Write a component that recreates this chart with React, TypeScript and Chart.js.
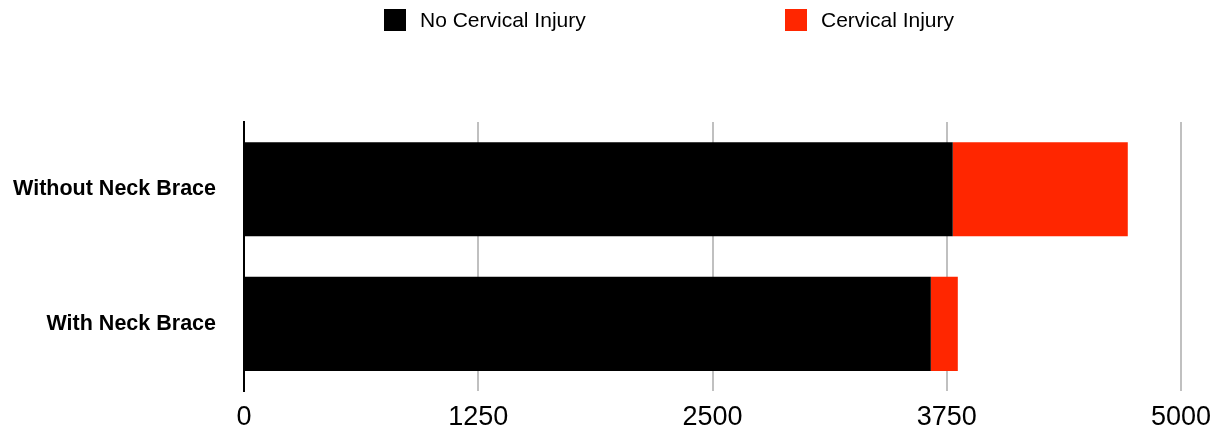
import React, { useEffect, useRef } from "react";
import { Chart, registerables } from "chart.js";

Chart.register(...registerables);

const categories = ["Without Neck Brace", "With Neck Brace"];
const noInjury = [3782, 3665];
const injury = [934, 144];
const seriesNames = ["No Cervical Injury", "Cervical Injury"];
const seriesColors = ["#000000", "#FF2600"];
const xMin = 0;
const xMax = 5000;
const xStep = 1250;

const FONT = "'Liberation Sans', Helvetica, Arial, sans-serif";

export default function App() {
  const ref = useRef<HTMLCanvasElement | null>(null);

  useEffect(() => {
    document.body.style.margin = "0";
    const ctx = ref.current;
    if (!ctx) return;
    const chart = new Chart(ctx, {
      type: "bar",
      data: {
        labels: categories,
        datasets: [
          {
            label: seriesNames[0],
            data: noInjury,
            backgroundColor: seriesColors[0],
            barPercentage: 0.7,
            categoryPercentage: 1,
          },
          {
            label: seriesNames[1],
            data: injury,
            backgroundColor: seriesColors[1],
            barPercentage: 0.7,
            categoryPercentage: 1,
          },
        ],
      },
      options: {
        indexAxis: "y",
        responsive: false,
        animation: false,
        layout: { padding: { top: 122, right: 36, left: 0, bottom: 0 } },
        plugins: {
          legend: { display: false },
          tooltip: { enabled: false },
        },
        scales: {
          x: {
            stacked: true,
            min: xMin,
            max: xMax,
            ticks: {
              stepSize: xStep,
              color: "#000",
              padding: 10,
              font: { family: FONT, size: 27 },
              maxRotation: 0,
              callback: (v: any) => String(v),
            },
            grid: {
              drawTicks: false,
              lineWidth: 2,
              color: (c: any) => (c.index === 0 ? "rgba(0,0,0,0)" : "#c0c0c0"),
            },
            border: { display: false },
            afterFit: (s: any) => {
              s.height = 39;
              s.paddingRight = 0;
              s.paddingLeft = 0;
            },
          },
          y: {
            stacked: true,
            ticks: {
              color: "#000",
              padding: 28,
              font: { family: FONT, size: 21.5, weight: "bold" },
            },
            grid: { display: false, drawTicks: false },
            border: { display: true, color: "#000", width: 2 },
            afterFit: (s: any) => {
              s.width = 244;
            },
          },
        },
      },
    });
    return () => chart.destroy();
  }, []);

  const legendItem = (i: number, left: number) => (
    <div
      key={i}
      style={{
        position: "absolute",
        left,
        top: 9,
        display: "flex",
        alignItems: "center",
        fontFamily: FONT,
        fontSize: 21,
        color: "#000",
        whiteSpace: "nowrap",
        lineHeight: "22px",
      }}
    >
      <span
        style={{
          display: "inline-block",
          width: 22,
          height: 22,
          background: seriesColors[i],
          marginRight: 14,
        }}
      />
      <span>{seriesNames[i]}</span>
    </div>
  );

  return (
    <div style={{ position: "relative", width: 1217, height: 432 }}>
      <canvas ref={ref} width={1217} height={432} style={{ display: "block" }} />
      {legendItem(0, 384)}
      {legendItem(1, 785)}
    </div>
  );
}
